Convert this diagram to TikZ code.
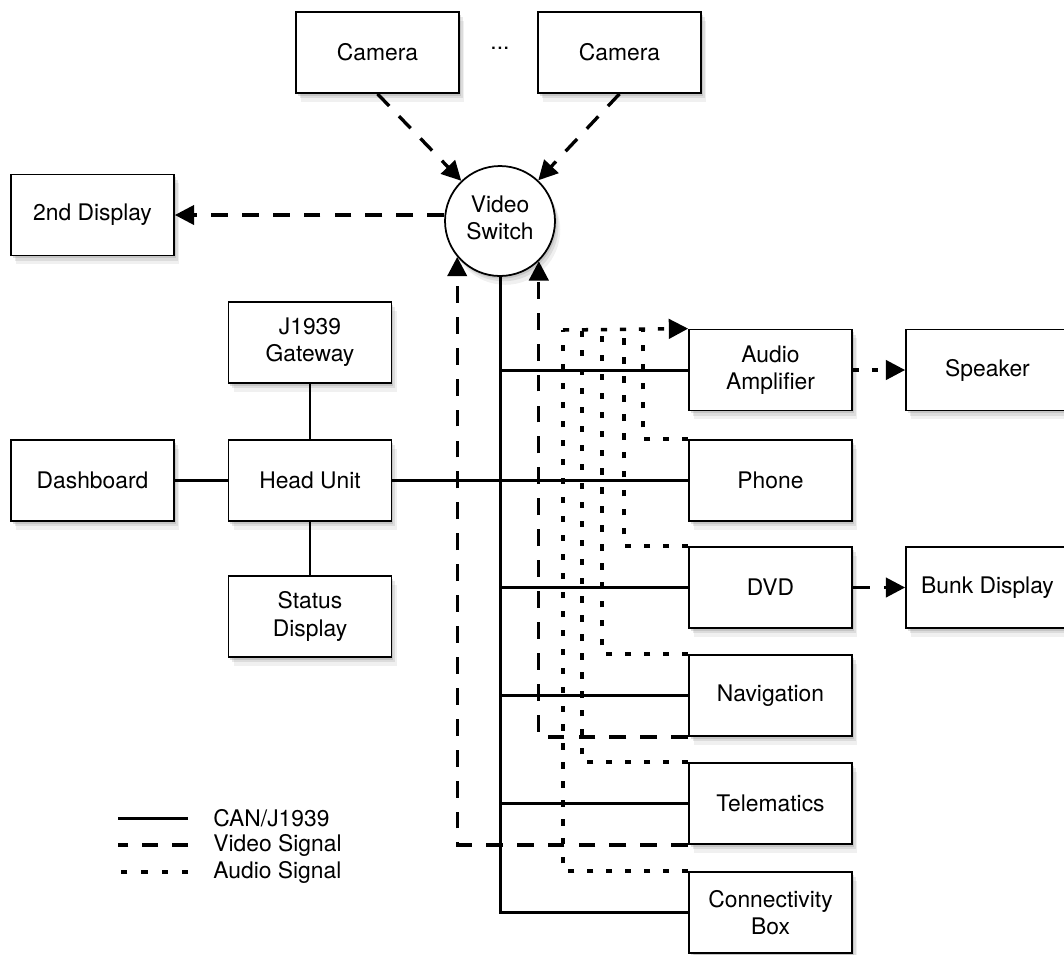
\documentclass[tikz,border=0pt]{standalone}
\usepackage{fontspec}
\setmainfont{TeX Gyre Heros}
\definecolor{NetBlack}{HTML}{000000}
\definecolor{NetWhite}{HTML}{FFFFFF}
\usetikzlibrary{arrows.meta, shadows, calc}
\tikzset{
    unit/.style={
        draw=NetBlack,
        line width=1pt,
        fill=NetWhite,
        minimum width=3.26cm,
        minimum height=1.62cm,
        text=NetBlack,
        font=\fontsize{13}{15.5}\selectfont,
        align=center,
        inner sep=2pt,
        drop shadow={opacity=0.12, shadow xshift=3pt, shadow yshift=-5pt},
        drop shadow={opacity=0.18, shadow xshift=2pt, shadow yshift=-3pt},
        drop shadow={opacity=0.25, shadow xshift=1pt, shadow yshift=-1.5pt}
    },
    hub/.style={
        unit,
        circle,
        minimum width=2.2cm,
        minimum height=2.2cm
    },
    canline/.style={
        line width=1.7pt,
        NetBlack
    },
    videoline/.style={
        line width=1.9pt,
        dash pattern=on 9.6pt off 8pt,
        NetBlack
    },
    audioline/.style={
        line width=2pt,
        dash pattern=on 3.5pt off 7.3pt,
        NetBlack
    },
    tip/.style={
        -{Triangle[length=11pt, width=11pt]}
    },
    legendtext/.style={
        font=\fontsize{13}{15.5}\selectfont,
        inner sep=0pt,
        anchor=west
    }
}

\begin{document}
\begin{tikzpicture}[x=0.02cm, y=-0.02cm]
        \useasboundingbox (0,0) rectangle (1064,954);

        % Cameras and switch
        \node[unit] (cam1) at (377.5,52.5) {Camera};
        \node[unit] (cam2) at (619.5,52.5) {Camera};
        \node[font=\fontsize{13}{15.5}\selectfont] (dots) at (500,48) {...};
        \node[hub] (vs) at (500,221) {Video\\Switch\\[-12pt]};
        \node[unit] (disp2) at (92.5,215) {2nd Display};

        % Head unit cluster
        \node[unit] (gw) at (310,342.5) {J1939\\Gateway};
        \node[unit] (dash) at (92.5,480.5) {Dashboard};
        \node[unit] (hu) at (310,480.5) {Head Unit};
        \node[unit] (stat) at (310,616.5) {Status\\Display};

        % Devices on the bus
        \node[unit] (amp) at (770.5,370) {Audio\\Amplifier};
        \node[unit] (spk) at (987.5,370) {Speaker};
        \node[unit] (phone) at (770.5,480.5) {Phone};
        \node[unit] (dvd) at (770.5,587.5) {DVD};
        \node[unit] (bunk) at (987.5,587.5) {Bunk Display};
        \node[unit] (nav) at (770.5,695.5) {Navigation};
        \node[unit] (tele) at (770.5,803.5) {Telematics};
        \node[unit] (conn) at (770.5,912.5) {Connectivity\\Box};

        % CAN/J1939
        \draw[canline] (vs.south) |- (conn.west);
        \foreach \dev in {amp, dvd, nav, tele}
            \draw[canline] (vs.south |- \dev.west) -- (\dev.west);
        \draw[canline] (hu.east) -- (phone.west);
        \draw[canline] (dash) -- (hu);
        \draw[canline] (gw) -- (hu);
        \draw[canline] (hu) -- (stat);

        % Video
        \draw[videoline, tip] (cam1.south) -- (vs);
        \draw[videoline, tip] (cam2.south) -- (vs);
        \draw[videoline, tip] (vs.west |- disp2.east) -- (disp2.east);
        \draw[videoline, tip] (tele.south west) -| (vs.220);
        \draw[videoline, tip] (nav.south west) -| (vs.314);
        \draw[videoline, tip] (dvd) -- (bunk);

        % Audio
        \coordinate (au1) at (563,330);
        \coordinate (au2) at (582,330);
        \coordinate (au3) at (602,330);
        \coordinate (au4) at (624,330);
        \coordinate (au5) at (643,330);
        \draw[audioline] (phone.north west) -| (au5);
        \draw[audioline] (dvd.north west) -| (au4);
        \draw[audioline] (nav.north west) -| (au3);
        \draw[audioline] (tele.north west) -| (au2);
        \draw[audioline] (conn.north west) -| (au1);
        \draw[audioline, tip] (au1) -- (amp.north west);
        \draw[audioline, tip] (amp) -- (spk);

        % Legend
        \node[legendtext] (lgcan) at (213,818) {CAN/J1939};
        \node[legendtext] (lgvideo) at (213,845) {Video Signal};
        \node[legendtext] (lgaudio) at (213,872) {Audio Signal};
        \draw[canline] (lgcan.west) ++(-25,0) -- ++(-70,0);
        \draw[videoline, dash pattern=on 9pt off 8pt] (lgvideo.west) ++(-25,0) -- ++(-70,0);
        \draw[audioline, dash pattern=on 3.5pt off 8pt] (lgaudio.west) ++(-25,0) -- ++(-70,0);
    \end{tikzpicture}
\end{document}
